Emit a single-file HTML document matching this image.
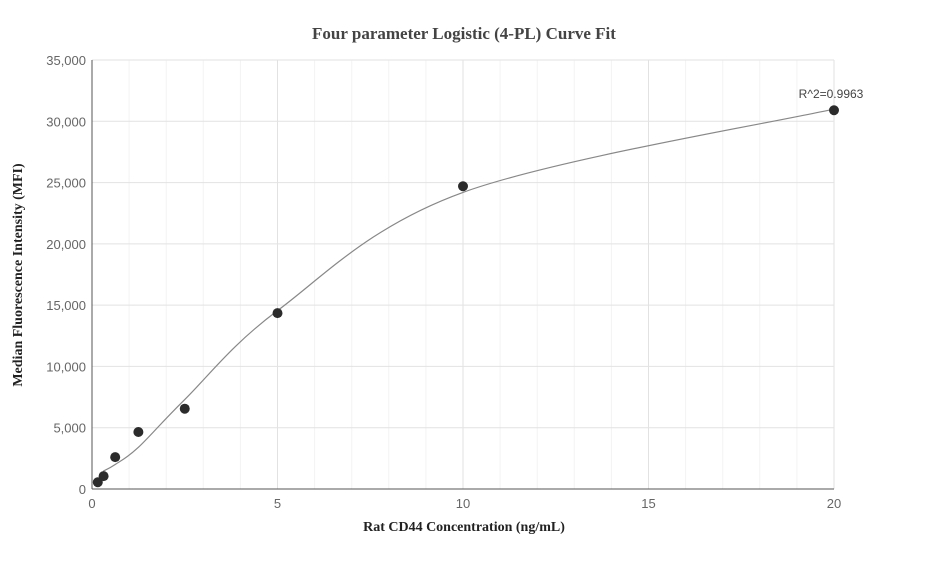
<!DOCTYPE html>
<html><head><meta charset="utf-8"><style>
body{margin:0;background:#fff;font-family:"Liberation Sans",sans-serif}
</style></head><body>
<svg id="chart" width="927" height="560">
<text x="464" y="39" text-anchor="middle" font-family="Liberation Serif" font-weight="bold" font-size="17" fill="#444">Four parameter Logistic (4-PL) Curve Fit</text>
<text x="464" y="531" text-anchor="middle" font-family="Liberation Serif" font-weight="bold" font-size="14" fill="#222">Rat CD44 Concentration (ng/mL)</text>
<text transform="translate(22,275) rotate(-90)" text-anchor="middle" font-family="Liberation Serif" font-weight="bold" font-size="14" fill="#222">Median Fluorescence Intensity (MFI)</text>
<g id="grid"></g><g id="axes"></g><g id="curve"></g><g id="pts"></g>
</svg>
<script>
const xs=[0.156,0.3125,0.625,1.25,2.5,5,10,20];
const ys=[550,1050,2600,4650,6550,14350,24700,30900];
const fitX=[0.3,0.625,1.25,2.5,5,10,20];
const fitY=[1450,2000,3400,7300,14550,24200,31000];
const xTicks=[0,5,10,15,20];
const yTicks=[0,5000,10000,15000,20000,25000,30000,35000];
const r2Label="R^2=0.9963";
const X=v=>92+v/20*742, Y=v=>489-v/35000*429;
const NS="http://www.w3.org/2000/svg";
function mk(t,a,p){const e=document.createElementNS(NS,t);for(const k in a)e.setAttribute(k,a[k]);p.appendChild(e);return e;}
const grid=document.getElementById('grid'),axes=document.getElementById('axes');
for(let i=1;i<=20;i++){const l=mk('line',{x1:X(i),x2:X(i),y1:60,y2:489,stroke:i%5?'#f3f3f3':'#e2e2e2'},grid);

}
yTicks.forEach(v=>{if(v>0){const l=mk('line',{x1:92,x2:834,y1:Y(v),y2:Y(v),stroke:'#e2e2e2'},grid);

}
const t=mk('text',{x:86,y:Y(v)+5,'text-anchor':'end','font-size':13,fill:'#666'},axes);t.textContent=v.toLocaleString('en-US');

});
xTicks.forEach(v=>{const t=mk('text',{x:X(v),y:508,'text-anchor':'middle','font-size':13,fill:'#666'},axes);t.textContent=v;

});
const xa=mk('line',{x1:92,x2:834,y1:489,y2:489,stroke:'#555'},axes);


const ya=mk('line',{x1:92,x2:92,y1:60,y2:489,stroke:'#555'},axes);


// catmull-rom curve
const P=fitX.map((x,i)=>[X(x),Y(fitY[i])]);
let d='M'+P[0].join(',');
for(let i=0;i<P.length-1;i++){const p0=P[i-1]||P[i],p1=P[i],p2=P[i+1],p3=P[i+2]||p2;
d+=` C${p1[0]+(p2[0]-p0[0])/6},${p1[1]+(p2[1]-p0[1])/6} ${p2[0]-(p3[0]-p1[0])/6},${p2[1]-(p3[1]-p1[1])/6} ${p2[0]},${p2[1]}`;}
const c=mk('path',{d:d,fill:'none',stroke:'#888','stroke-width':1.2},document.getElementById('curve'));


xs.forEach((x,i)=>{const p=mk('circle',{cx:X(x),cy:Y(ys[i]),r:5,fill:'#2b2b2b'},document.getElementById('pts'));

});
const r=mk('text',{x:X(20)-3,y:Y(fitY[fitY.length-1])-11,'text-anchor':'middle','font-size':12,fill:'#444'},axes);r.textContent=r2Label;


</script>
</body></html>
